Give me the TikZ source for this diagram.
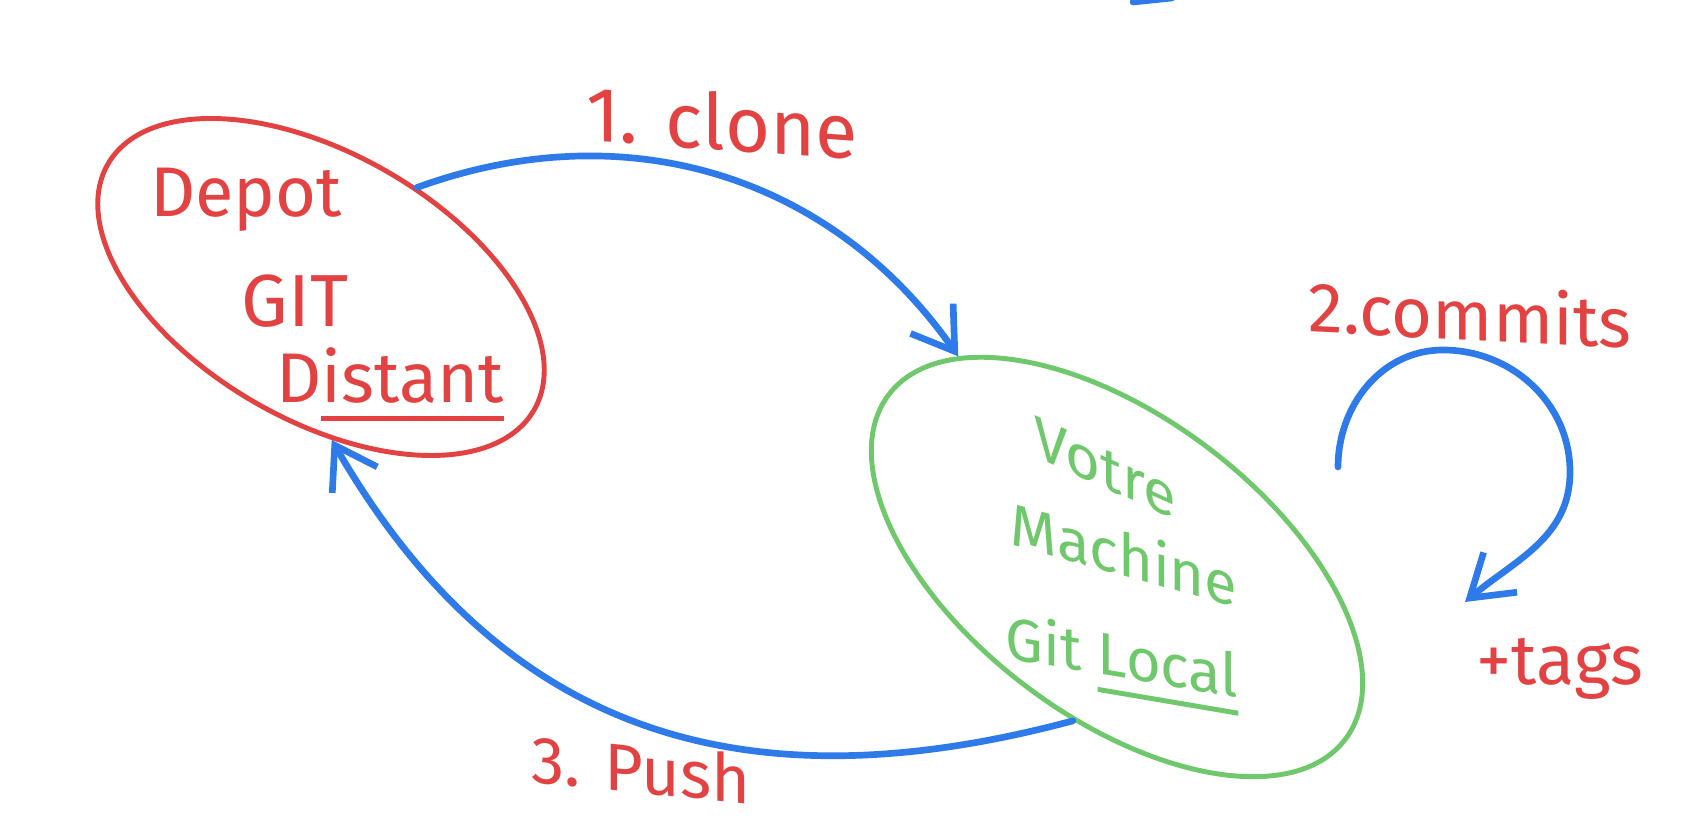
\documentclass[tikz,border=0pt]{standalone}
\usepackage{fontspec}
\setmainfont{Fira Sans}
\usepackage{xcolor}
\definecolor{gitred}{RGB}{226, 66, 66}
\definecolor{gitgreen}{RGB}{112, 200, 108}
\definecolor{gitblue}{RGB}{46, 122, 232}
\usepackage{tikz}
\usetikzlibrary{
    shapes.geometric,
    arrows.meta,
    positioning,
    calc
}
% hand-drawn underline, a bit below the baseline
\newcommand{\undl}[1]{\leavevmode\setbox0=\hbox{#1}\rlap{\vrule width\wd0 height -0.13cm depth 0.18cm}\box0}

\tikzset{
    redtxt/.style={text=gitred, font=\fontsize{20}{24}\selectfont, anchor=base},
    greentxt/.style={text=gitgreen, font=\fontsize{17}{20}\selectfont, anchor=base, inner sep=1pt},
    repo/.style={ellipse, draw=#1, line width=1.4pt, inner sep=0pt},
    flow/.style={draw=gitblue, line width=1.9pt, line cap=round,
        -{Straight Barb[length=4mm, width=5.2mm]}}
}

\begin{document}
\begin{tikzpicture}
    \useasboundingbox (0,0) rectangle (16.94,8.38);

    % remote repository
    \node[repo=gitred, minimum width=4.92cm, minimum height=2.66cm, rotate=-30] (dist) at (3.21,5.51) {};
    \node[redtxt] (depot) at (2.46,6.21) {Depot};
    \node[redtxt, font=\fontsize{21}{24}\selectfont] (git) at (2.95,5.11) {GIT};
    \node[redtxt] (distant) at (3.90,4.35) {D\undl{istant}};

    % local machine
    \node[repo=gitgreen, minimum width=5.72cm, minimum height=3.0cm, rotate=-37] (loc) at (11.17,2.71) {};
    \node[greentxt, yslant=-0.45] (votre) at (11.05,3.50) {Votre};
    \node[greentxt, yslant=-0.28] (machine) at (11.24,2.62) {Machine};
    \node[greentxt, yslant=-0.17] (gitlocal) at (11.22,1.60) {Git \undl{Local}};

    % clone / push
    \draw[flow] (dist.76) to[out=20, in=125] (loc.164);
    \draw[flow] (loc.-69) to[out=195, in=-60, looseness=1.1] (dist.-56);
    \node[redtxt, font=\fontsize{22}{26}\selectfont, yslant=-0.07] (clone) at (7.22,6.88) {1. clone};
    \node[redtxt, font=\fontsize{19}{22}\selectfont, yslant=-0.1] (push) at (6.41,0.45) {3. Push};

    % commits loop
    \coordinate (cs) at (13.38,3.71);
    \coordinate (ctop) at (14.43,4.88);
    \coordinate (cright) at (15.70,3.66);
    \coordinate (ce) at (14.65,2.36);
    \draw[flow] (cs) to[out=90, in=180] (ctop) to[out=0, in=90] (cright) to[out=-90, in=40] (ce);
    \node[redtxt, yslant=-0.05] (commits) at (14.70,4.98) {2.commits};
    \node[redtxt] (tags) at (15.60,1.53) {+tags};

    % stroke cut off at the top edge
    \draw[gitblue, line width=1.9pt, line cap=round] (11.33,8.36) -- (11.72,8.40);
\end{tikzpicture}
\end{document}
